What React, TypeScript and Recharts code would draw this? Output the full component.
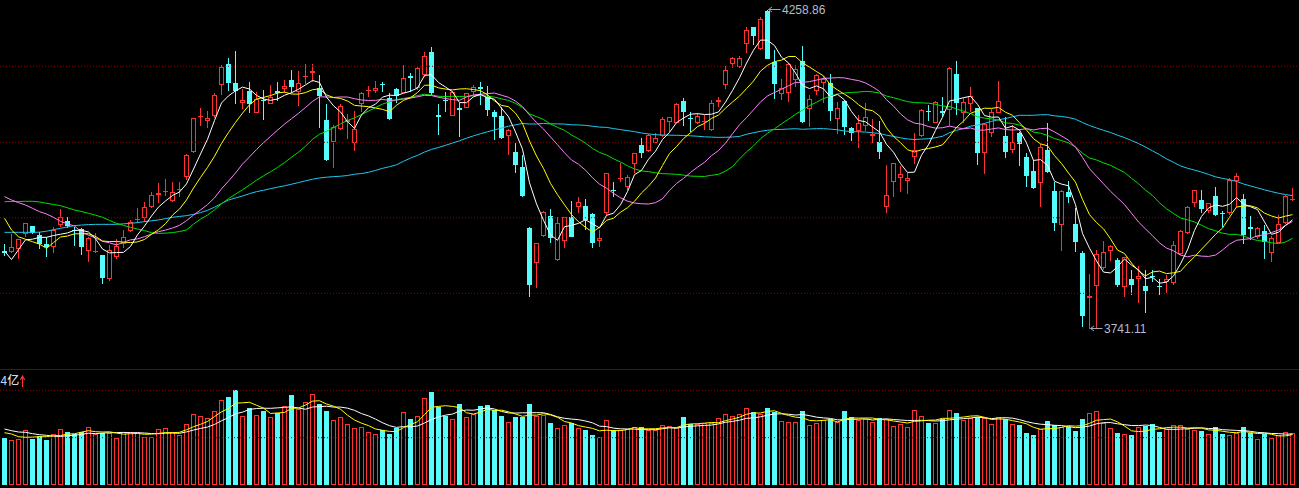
import React from 'react';
import { ComposedChart, Bar, Line, XAxis, YAxis, ReferenceLine, ReferenceDot } from 'recharts';

// ---------- price data (index points) ----------
const opens = [
3867.5,3865.3,3869.7,3894.0,3907.0,3892.9,3878.3,3872.9,3908.6,3915.6,
3901.6,3902.1,3867.5,3864.8,3860.5,3821.0,3856.7,3878.3,3899.9,3917.3,
3920.0,3937.8,3957.3,3962.7,3947.6,3966.0,3986.5,4027.1,4083.9,4078.5,
4086.1,4135.8,4170.4,4140.1,4106.6,4127.2,4091.5,4112.6,4105.0,4126.6,
4130.4,4144.5,4125.5,4150.4,4155.3,4131.0,4079.6,4044.4,4064.9,4076.9,
4041.7,4105.0,4126.6,4126.6,4138.0,4114.7,4129.3,4123.9,4151.0,4131.0,
4152.6,4190.4,4087.7,4112.5,4086.6,4099.6,4099.6,4125.0,4132.6,4117.4,
4093.1,4086.0,4054.1,4028.1,4003.8,3903.7,3848.0,3891.8,3923.7,3852.3,
3883.7,3921.6,3938.9,3940.0,3926.4,3883.7,3929.1,3965.9,3983.8,3971.3,
4007.6,4039.0,4029.8,4042.8,4054.1,4076.8,4075.2,4110.4,4082.2,4075.2,
4076.3,4063.3,4108.8,4136.3,4170.9,4165.0,4202.3,4229.9,4194.2,4256.4,
4174.2,4121.2,4123.9,4144.5,4175.3,4096.9,4127.1,4139.1,4140.1,4080.6,
4110.4,4066.0,4062.2,4069.8,4054.1,4043.3,3937.8,3978.4,3984.9,3980.0,
4019.0,4053.6,4094.7,4075.2,4094.7,4095.8,4154.2,4090.4,4105.0,4098.5,
4026.5,4059.0,4091.5,4053.6,4030.9,4057.9,4020.0,3996.8,3977.9,4030.9,
3964.3,3909.1,3962.2,3910.8,3863.2,3790.1,3810.7,3838.8,3867.5,3852.3,
3808.0,3821.5,3822.0,3810.1,3826.4,3810.7,3816.1,3814.5,3862.1,3895.6,
3944.3,3949.7,3932.4,3956.7,3929.2,3929.2,3981.1,3950.8,3905.4,3890.2,
3900.0,3863.2,3880.5,3911.8,3949.7];

const highs = [
3878.3,3894.5,3887.0,3912.9,3907.5,3898.3,3890.2,3905.4,3935.7,3922.7,
3905.4,3903.7,3890.2,3895.6,3861.0,3876.7,3885.9,3901.0,3917.3,3936.2,
3945.9,3962.2,3976.8,3983.3,3978.9,3978.9,4023.8,4083.3,4098.5,4094.2,
4122.8,4168.8,4179.6,4191.5,4129.3,4141.8,4125.5,4128.2,4136.4,4141.8,
4144.5,4160.7,4159.1,4170.4,4170.4,4152.6,4104.9,4071.4,4104.9,4089.3,
4094.2,4124.5,4135.3,4142.9,4141.8,4122.8,4131.0,4168.8,4155.3,4166.1,
4190.5,4198.6,4105.5,4125.5,4127.1,4106.6,4123.9,4136.4,4141.8,4134.7,
4095.8,4101.2,4064.4,4041.7,4022.7,3906.4,3879.4,3931.9,3935.1,3921.6,
3922.7,3948.1,3955.1,3951.3,3928.1,3901.0,3994.1,3979.4,4010.3,3990.3,
4026.5,4050.9,4056.8,4059.0,4083.9,4085.0,4106.6,4114.7,4092.0,4090.4,
4087.7,4112.0,4117.4,4167.2,4182.2,4183.4,4229.9,4231.0,4247.3,4258.86,
4193.1,4146.1,4171.5,4168.8,4199.6,4120.1,4154.2,4151.0,4154.2,4109.3,
4112.0,4068.7,4087.7,4107.7,4081.2,4077.9,4006.5,4010.3,4004.9,3994.1,
4059.0,4097.4,4103.9,4110.4,4116.3,4165.0,4175.3,4114.7,4133.7,4099.6,
4074.1,4096.9,4143.4,4085.0,4071.4,4060.6,4026.5,4014.6,4040.6,4075.2,
3979.5,3965.9,3980.6,3936.2,3867.5,3829.1,3868.6,3883.1,3876.7,3855.0,
3857.8,3836.1,3843.1,3836.1,3836.1,3821.0,3828.0,3883.1,3901.0,3940.5,
3965.9,3965.9,3945.4,3971.4,3931.9,3984.9,3994.1,3959.5,3923.8,3906.4,
3909.1,3891.3,3925.4,3957.8,3969.7];

const lows = [
3858.8,3863.2,3854.5,3890.2,3894.5,3869.7,3857.8,3863.2,3906.4,3903.7,
3875.6,3860.5,3849.6,3863.2,3813.4,3818.8,3854.5,3871.3,3898.3,3911.8,
3914.5,3936.2,3945.4,3956.2,3947.0,3955.1,3982.2,4025.5,4069.8,4067.1,
4083.3,4120.1,4127.2,4104.9,4096.9,4091.5,4090.4,4079.6,4104.9,4110.4,
4123.9,4123.9,4102.8,4138.0,4141.8,4066.0,4013.5,4002.2,4063.3,4048.2,
4029.8,4093.1,4117.4,4122.8,4125.5,4079.6,4106.6,4122.8,4125.5,4128.2,
4149.9,4120.1,4055.2,4092.0,4086.0,4052.5,4098.5,4120.1,4103.9,4086.0,
4047.1,4048.7,4022.7,3994.1,3955.1,3792.8,3806.3,3890.2,3879.4,3851.2,
3871.3,3889.1,3929.1,3901.0,3871.3,3874.0,3925.4,3955.1,3979.4,3965.9,
3993.0,4017.3,4028.1,4041.7,4052.5,4060.6,4074.1,4069.8,4060.6,4073.1,
4063.3,4062.2,4101.2,4129.3,4163.4,4163.4,4187.7,4201.3,4193.1,4178.0,
4113.6,4111.9,4109.3,4132.6,4075.2,4068.7,4120.1,4106.6,4078.5,4056.8,
4055.2,4046.0,4033.6,4062.2,4042.8,4015.7,3928.1,3955.1,3963.2,3958.9,
4008.1,4051.4,4078.5,4074.1,4083.9,4069.8,4087.7,4075.2,4093.1,4006.5,
3991.9,4052.5,4090.4,4017.3,4025.5,4004.9,3970.3,3967.0,3938.9,3994.1,
3899.9,3867.5,3944.3,3865.9,3743.0,3741.11,3742.5,3836.1,3851.3,3809.1,
3791.7,3795.5,3782.0,3765.8,3817.2,3795.5,3798.2,3811.8,3860.5,3894.5,
3937.8,3929.2,3928.1,3924.3,3905.4,3925.4,3938.9,3878.3,3884.8,3885.9,
3854.0,3849.6,3879.4,3910.8,3948.6];

const closes = [
3863.2,3872.9,3885.9,3911.8,3896.7,3878.3,3872.9,3901.0,3921.6,3907.5,
3899.4,3872.9,3887.5,3867.0,3823.7,3868.6,3875.1,3889.1,3914.5,3918.9,
3938.9,3957.3,3961.6,3963.8,3963.2,3967.6,4022.8,4082.3,4086.1,4082.3,
4120.1,4165.0,4140.1,4127.2,4112.0,4104.9,4113.1,4110.9,4116.3,4122.8,
4135.3,4133.7,4139.1,4151.5,4159.1,4119.0,4014.6,4068.7,4102.3,4079.6,
4065.0,4122.8,4127.7,4131.0,4136.9,4081.2,4118.5,4147.2,4147.2,4163.4,
4183.4,4123.9,4083.9,4110.9,4124.4,4095.8,4122.8,4132.6,4130.4,4095.8,
4085.0,4049.8,4063.3,4006.5,3956.2,3811.7,3879.4,3930.2,3888.6,3911.8,
3921.6,3890.2,3947.0,3917.2,3879.4,3887.5,3993.0,3964.3,3985.4,3986.5,
4025.4,4026.5,4055.2,4050.9,4081.2,4083.9,4105.0,4093.1,4081.2,4086.0,
4077.4,4106.6,4112.0,4160.7,4180.6,4180.6,4225.6,4216.4,4243.5,4179.1,
4137.4,4130.9,4169.9,4161.8,4076.8,4113.6,4152.6,4146.1,4094.7,4098.5,
4068.7,4057.9,4074.1,4083.9,4056.8,4028.1,3957.8,4009.2,3991.9,3984.9,
4030.9,4095.8,4093.6,4108.2,4091.5,4163.4,4106.6,4109.3,4119.1,4026.5,
4072.5,4093.1,4110.9,4028.1,4043.3,4040.6,3988.7,3968.6,4035.2,3995.7,
3912.9,3964.9,3955.1,3882.1,3761.4,3793.9,3861.5,3864.8,3875.1,3811.8,
3856.7,3811.8,3826.4,3802.6,3824.2,3808.0,3821.0,3876.7,3899.4,3938.9,
3965.9,3934.6,3944.3,3925.4,3927.0,3982.2,3988.7,3892.9,3903.2,3903.7,
3882.1,3887.5,3910.8,3956.7,3950.8];

// moving-average lines
const ma5 = [
3867,3853,3869,3885,3886.1,3889.1,3889.1,3892.1,3894.1,3896.3,
3900.5,3900.5,3897.8,3886.9,3870.1,3863.9,3864.4,3864.7,3874.2,3893.2,
3907.3,3923.7,3938.2,3948.1,3957.0,3962.7,3975.8,3999.9,4024.4,4048.2,
4078.7,4107.2,4118.7,4126.9,4132.9,4129.8,4119.5,4113.6,4111.4,4113.6,
4119.7,4123.8,4129.4,4136.5,4143.7,4140.5,4116.7,4102.6,4092.7,4076.8,
4066.0,4087.7,4099.5,4105.2,4116.7,4119.9,4119.1,4123.0,4126.2,4131.5,
4151.9,4153.0,4140.4,4133.1,4125.3,4107.8,4107.6,4117.3,4121.2,4115.5,
4113.3,4098.7,4084.9,4060.1,4032.2,3977.5,3943.4,3916.8,3893.2,3884.3,
3906.3,3908.5,3911.8,3917.6,3911.1,3904.3,3924.8,3928.3,3941.9,3963.3,
3990.9,3997.6,4015.8,4028.9,4047.8,4059.5,4075.2,4082.8,4088.9,4089.8,
4088.5,4088.9,4092.6,4108.5,4127.5,4148.1,4171.9,4192.8,4209.3,4209.0,
4200.4,4181.5,4172.2,4155.8,4135.4,4130.6,4134.9,4130.2,4116.8,4121.1,
4112.1,4093.2,4078.8,4076.6,4068.3,4060.2,4040.1,4027.2,4008.8,3994.4,
3994.9,4022.5,4039.4,4062.7,4084.0,4110.5,4112.7,4115.8,4118.0,4105.0,
4086.8,4084.1,4084.4,4066.2,4069.6,4063.2,4042.3,4013.9,4015.3,4005.8,
3980.2,3975.5,3972.8,3942.1,3895.3,3871.5,3850.8,3832.7,3831.3,3841.4,
3854.0,3844.0,3836.4,3821.9,3824.3,3814.6,3816.4,3826.5,3845.9,3868.8,
3900.4,3923.1,3936.6,3941.8,3939.4,3942.7,3953.5,3943.2,3938.8,3934.1,
3914.1,3893.9,3897.5,3908.2,3917.6];

const ma10 = [
3920,3901,3890,3886,3882,3878.1,3871.1,3880.6,3889.6,3891.2,
3894.8,3894.8,3895.0,3890.5,3883.2,3882.2,3882.5,3881.3,3880.6,3881.7,
3885.6,3894.1,3901.5,3911.2,3925.1,3935.0,3949.8,3969.1,3986.3,4002.6,
4020.7,4041.5,4059.3,4075.7,4090.6,4104.3,4113.4,4116.2,4119.2,4123.3,
4124.8,4121.7,4121.5,4124.0,4128.7,4130.1,4120.3,4116.0,4114.6,4110.3,
4103.3,4102.2,4101.1,4099.0,4096.8,4093.0,4103.4,4111.3,4115.7,4124.1,
4135.9,4136.1,4131.7,4129.7,4128.4,4129.9,4130.3,4128.9,4127.2,4120.4,
4110.6,4103.2,4101.1,4090.7,4073.9,4045.4,4021.1,4000.9,3976.7,3958.3,
3941.9,3926.0,3914.3,3905.4,3897.7,3905.3,3916.7,3920.1,3929.8,3937.2,
3947.6,3961.2,3972.1,3985.4,4005.6,4025.2,4036.4,4049.3,4058.9,4068.8,
4074.0,4082.1,4087.7,4098.7,4108.7,4118.3,4130.4,4142.7,4158.9,4168.3,
4174.3,4176.7,4182.5,4182.6,4172.2,4165.5,4158.2,4151.2,4136.3,4128.3,
4121.4,4114.1,4104.5,4096.7,4094.7,4086.2,4066.7,4053.0,4042.7,4031.4,
4027.6,4031.3,4033.3,4035.8,4039.2,4052.7,4067.6,4077.6,4090.4,4094.5,
4098.7,4098.4,4100.1,4092.1,4087.3,4075.0,4063.2,4049.2,4040.8,4037.7,
4021.7,4008.9,3993.4,3978.7,3950.6,3925.9,3913.2,3902.8,3886.7,3868.4,
3862.8,3847.4,3834.6,3826.6,3832.9,3834.3,3830.2,3831.5,3833.9,3846.6,
3857.5,3869.8,3881.6,3893.9,3904.1,3921.6,3938.3,3939.9,3940.3,3936.8,
3928.4,3923.7,3920.4,3923.5,3925.9];

const ma20 = [
3955.1,3949.7,3945.4,3941.6,3936.2,3930.8,3927.0,3921.6,3915.0,3911.0,
3907.4,3897.9,3892.5,3888.3,3882.6,3880.2,3876.8,3881.0,3885.1,3886.5,
3890.2,3894.5,3898.3,3900.9,3904.2,3908.6,3916.2,3925.2,3933.5,3942.2,
3953.2,3967.8,3980.4,3993.5,4007.9,4019.7,4031.6,4042.7,4052.8,4063.0,
4072.8,4081.6,4090.4,4099.9,4109.7,4117.2,4116.9,4116.1,4116.9,4116.8,
4114.1,4112.0,4111.3,4111.5,4112.8,4111.6,4111.9,4113.7,4115.2,4117.2,
4119.6,4119.2,4116.4,4114.4,4112.6,4111.5,4116.9,4120.1,4121.5,4122.3,
4123.3,4119.7,4116.4,4110.2,4101.2,4087.7,4075.7,4064.9,4052.0,4039.4,
4026.3,4014.6,4007.7,3998.1,3985.8,3975.4,3968.9,3960.5,3953.3,3947.8,
3944.8,3943.6,3943.2,3945.4,3951.7,3965.3,3976.6,3984.7,3994.4,4003.0,
4010.8,4021.7,4029.9,4042.1,4057.2,4071.8,4083.4,4096.0,4108.9,4118.6,
4124.2,4129.4,4135.1,4140.7,4140.5,4141.9,4144.3,4147.0,4147.6,4148.3,
4147.9,4145.4,4143.5,4139.7,4133.5,4125.9,4112.5,4102.1,4089.5,4079.9,
4074.5,4072.7,4068.9,4066.3,4067.0,4069.5,4067.2,4065.3,4066.6,4063.0,
4063.2,4064.9,4066.7,4064.0,4063.3,4063.9,4065.4,4063.4,4065.6,4066.1,
4060.2,4053.7,4046.8,4035.4,4019.0,4000.5,3988.2,3976.0,3963.8,3953.1,
3942.3,3928.2,3914.0,3902.7,3891.8,3880.1,3871.7,3867.2,3860.3,3857.5,
3860.2,3858.6,3858.1,3860.3,3868.5,3878.0,3884.3,3885.7,3887.1,3891.7,
3893.0,3896.8,3901.0,3908.7,3915.0];

const ma30 = [
3947.0,3947.3,3947.3,3947.6,3947.6,3946.5,3944.3,3942.5,3940.5,3937.0,
3933.5,3931.0,3928.1,3925.0,3921.6,3916.5,3911.8,3908.5,3905.4,3902.5,
3900.1,3896.6,3895.5,3895.9,3896.8,3898.5,3901.1,3910.4,3918.8,3925.2,
3933.7,3943.5,3952.0,3959.2,3966.3,3973.8,3981.9,3988.9,3995.4,4002.6,
4010.4,4019.1,4027.4,4037.0,4048.2,4056.5,4061.2,4067.1,4073.4,4078.8,
4083.0,4088.5,4094.0,4099.6,4105.4,4109.1,4112.4,4114.5,4116.5,4119.2,
4121.4,4120.0,4118.1,4117.6,4118.0,4117.7,4118.0,4118.8,4119.2,4118.3,
4116.6,4113.9,4111.3,4106.5,4099.7,4089.5,4085.0,4080.4,4073.2,4067.6,
4062.8,4055.1,4049.0,4041.9,4033.4,4026.9,4022.7,4016.6,4011.3,4005.3,
4000.1,3996.8,3995.8,3993.9,3992.4,3992.0,3991.4,3990.1,3988.5,3988.1,
3987.9,3989.8,3991.4,3996.5,4004.0,4016.3,4027.9,4037.4,4049.2,4058.1,
4065.3,4073.4,4080.8,4088.9,4095.5,4103.0,4108.3,4114.4,4118.0,4121.8,
4123.3,4124.3,4124.9,4126.0,4125.2,4123.3,4118.4,4115.7,4112.6,4109.3,
4107.8,4107.4,4106.8,4105.1,4102.1,4101.5,4097.5,4093.9,4089.8,4084.8,
4082.6,4081.3,4079.3,4074.9,4073.8,4071.3,4065.9,4059.9,4058.0,4054.6,
4049.4,4046.2,4042.3,4035.6,4025.7,4017.9,4014.7,4009.9,4006.0,4000.2,
3994.4,3984.9,3976.1,3965.8,3957.0,3945.1,3935.5,3927.8,3920.5,3917.6,
3914.0,3908.7,3903.2,3899.8,3895.9,3893.9,3893.9,3891.4,3887.0,3883.9,
3882.9,3880.3,3878.9,3881.4,3887.6];

const ma60 = [
3897.2,3897.2,3897.2,3897.2,3897.2,3897.5,3899.0,3901.5,3903.7,3906.0,
3908.1,3909.0,3909.8,3910.2,3910.2,3910.2,3910.2,3911.0,3911.8,3913.0,
3914.5,3916.0,3917.3,3919.5,3921.6,3923.0,3924.3,3926.5,3929.2,3933.0,
3938.0,3944.0,3949.7,3953.0,3956.2,3960.0,3963.2,3965.5,3968.1,3970.5,
3972.7,3975.3,3978.0,3980.8,3983.4,3985.5,3986.7,3987.6,3988.3,3989.4,
3991.6,3992.6,3994.7,3997.8,4001.1,4003.8,4006.8,4012.5,4017.7,4022.2,
4027.5,4031.8,4035.0,4038.4,4042.2,4045.8,4050.0,4053.8,4057.3,4060.4,
4063.5,4066.5,4069.4,4071.7,4074.0,4073.0,4073.1,4073.8,4073.3,4073.2,
4072.9,4071.8,4071.5,4070.8,4069.4,4068.0,4067.6,4065.6,4063.9,4062.3,
4060.7,4058.4,4057.0,4055.7,4055.2,4054.9,4054.7,4054.4,4053.9,4053.2,
4052.2,4051.8,4051.3,4051.5,4051.9,4052.9,4056.4,4058.9,4061.2,4062.9,
4064.1,4064.2,4064.9,4065.4,4064.5,4065.0,4065.5,4065.5,4064.7,4063.6,
4061.7,4060.6,4060.4,4060.0,4058.8,4057.7,4054.9,4052.9,4050.6,4048.8,
4047.8,4048.6,4049.1,4050.8,4053.1,4058.9,4062.7,4065.7,4069.5,4071.4,
4074.0,4077.3,4080.0,4081.9,4084.7,4087.2,4087.1,4087.2,4088.0,4088.2,
4086.3,4085.3,4083.6,4080.8,4075.5,4070.6,4066.6,4062.8,4059.3,4054.8,
4051.1,4046.2,4041.4,4035.5,4029.5,4023.3,4016.5,4010.9,4005.1,4001.2,
3998.3,3995.0,3991.3,3987.3,3984.8,3982.7,3979.9,3975.7,3972.5,3969.3,
3966.2,3963.3,3960.6,3958.5,3956.7];

// ---------- volume (亿) ----------
const volumes = [
1893,1800,1840,2200,1853,1960,1813,2027,2240,2133,
2040,2133,2320,2040,2067,2080,1880,2107,2120,2120,
1920,1920,2240,2280,2107,1987,2440,2840,2760,2680,
2960,3400,3520,3800,2760,3067,2800,2960,2720,2867,
3160,3613,3040,3320,3640,3240,2960,2600,2720,2440,
2280,2320,2120,2040,2187,2053,2280,2920,2640,2760,
3480,3733,3107,2773,2627,3240,2707,2840,3160,3200,
3000,2760,2520,2720,2733,3240,2760,2800,2480,2267,
2387,2467,2267,2200,2000,1907,2587,2187,2187,2227,
2307,2320,2200,2200,2387,2347,2333,2720,2427,2427,
2467,2467,2667,2840,2747,2827,3067,2920,2840,3080,
2933,2547,2507,2507,2960,2387,2467,2613,2627,2507,
2960,2707,2587,2640,2507,2667,2640,2347,2440,2307,
2987,2747,2480,2467,2653,2987,2880,2600,2667,2720,
2667,2440,2707,2627,2427,2400,2080,2000,2240,2560,
2387,2333,2333,2160,2640,2867,2947,2467,2267,2080,
2027,2000,2307,2373,2440,2120,2240,2387,2387,2253,
2187,2160,2040,2320,2040,1987,2067,2320,2093,1827,
2040,1867,1987,2107,2067];

const volMa5 = [
2093,2040,1933,1907,1917,1931,1933,1971,1979,2035,
2051,2115,2173,2133,2120,2128,2077,2035,2051,2061,
2029,2037,2064,2096,2093,2107,2211,2331,2427,2541,
2736,2928,3064,3272,3288,3309,3189,3077,2861,2883,
2901,3064,3080,3200,3355,3371,3240,3152,3032,2792,
2600,2472,2376,2240,2189,2144,2136,2296,2416,2531,
2816,3107,3144,3171,3144,3096,2891,2837,2915,3029,
2981,2992,2928,2840,2747,2795,2795,2851,2803,2709,
2539,2480,2374,2318,2264,2168,2192,2176,2174,2219,
2299,2246,2248,2251,2283,2291,2293,2397,2443,2451,
2475,2502,2491,2574,2638,2710,2830,2880,2880,2947,
2968,2864,2781,2715,2691,2582,2566,2587,2611,2520,
2635,2683,2678,2680,2680,2622,2608,2560,2520,2480,
2544,2566,2592,2598,2667,2667,2693,2717,2757,2771,
2707,2619,2640,2632,2574,2520,2448,2307,2229,2256,
2253,2304,2371,2355,2371,2467,2589,2616,2638,2526,
2358,2168,2136,2157,2229,2248,2296,2312,2315,2277,
2291,2275,2205,2192,2149,2109,2091,2147,2101,2059,
2069,2029,1963,1966,2014];

const volMa10 = [
2240,2173,2120,2107,2053,2012,1987,1952,1943,1976,
1991,2024,2072,2056,2078,2090,2096,2104,2092,2091,
2079,2057,2050,2074,2077,2068,2124,2198,2262,2317,
2422,2570,2698,2850,2915,3023,3059,3071,3067,3086,
3105,3127,3079,3031,3119,3136,3152,3116,3116,3074,
2986,2856,2764,2636,2491,2372,2304,2336,2328,2360,
2480,2622,2720,2794,2838,2956,2999,2991,3043,3087,
3039,2942,2883,2878,2888,2888,2894,2890,2822,2728,
2667,2638,2613,2561,2487,2354,2336,2275,2246,2242,
2234,2219,2212,2213,2251,2295,2270,2323,2347,2367,
2383,2398,2444,2509,2545,2593,2666,2686,2727,2793,
2839,2847,2831,2798,2819,2775,2715,2684,2663,2606,
2609,2625,2633,2646,2600,2629,2646,2619,2600,2580,
2583,2587,2576,2559,2574,2606,2630,2655,2678,2719,
2687,2656,2679,2695,2673,2614,2534,2474,2431,2415,
2387,2376,2339,2292,2314,2360,2447,2494,2497,2449,
2413,2379,2376,2398,2378,2303,2232,2224,2236,2253,
2270,2286,2259,2254,2213,2200,2183,2176,2147,2104,
2089,2060,2055,2034,2037];

// grid levels and annotations
const priceGrid = [4166.7, 4043.3, 3920.9, 3798.2];
const volGrid = [3787, 1893];
const maxMark = { index: 109, value: 4258.86, text: '4258.86' };
const minMark = { index: 155, value: 3741.11, text: '3741.11' };
const volUnitLabel = ['4', '亿'];

const RED = '#ff3232';
const CYAN = '#54fcfc';
const GRID = '#8c0000';
const FONT = '"Liberation Sans", Arial, sans-serif';

const candleData = closes.map((c, i) => ({
  i,
  open: opens[i],
  high: highs[i],
  low: lows[i],
  close: c,
  ma5: ma5[i],
  ma10: ma10[i],
  ma20: ma20[i],
  ma30: ma30[i],
  ma60: ma60[i],
}));

const volData = volumes.map((v, i) => ({
  i,
  vol: v,
  up: closes[i] >= opens[i],
  vma5: volMa5[i],
  vma10: volMa10[i],
}));

const Candle = (props: any) => {
  const { x, y, width, height, payload } = props;
  if (x == null || !payload) return null;
  const { open, close, high, low } = payload;
  const top = Math.min(y, y + height);
  const h = Math.abs(height);
  const k = h / (high - low || 1);
  const py = (v: number) => top + (high - v) * k;
  const up = close >= open;
  const color = up ? RED : CYAN;
  const wx = Math.floor(x + width / 2);
  const yH = Math.round(py(high));
  const yL = Math.round(py(low));
  const yT = Math.round(py(Math.max(open, close)));
  let yB = Math.round(py(Math.min(open, close)));
  if (yB - yT < 1) yB = yT + 1;
  const bx = Math.round(x);
  const bw = Math.round(width);
  if (up && yB - yT > 2) {
    return (
      <g shapeRendering="crispEdges">
        {yT > yH && <rect x={wx} y={yH} width={1} height={yT - yH} fill={color} />}
        {yL > yB && <rect x={wx} y={yB} width={1} height={yL - yB} fill={color} />}
        <rect x={bx + 0.5} y={yT + 0.5} width={bw - 1} height={yB - yT - 1} fill="#000" stroke={color} strokeWidth={1} />
      </g>
    );
  }
  return (
    <g shapeRendering="crispEdges">
      <rect x={wx} y={yH} width={1} height={Math.max(yL - yH, 1)} fill={color} />
      <rect x={bx} y={yT} width={bw} height={yB - yT} fill={color} />
    </g>
  );
};

const VolBar = (props: any) => {
  const { x, y, width, height, payload } = props;
  if (x == null || !payload) return null;
  const top = Math.round(Math.min(y, y + height));
  const bottom = Math.round(Math.max(y, y + height));
  const bx = Math.round(x);
  const bw = Math.round(width);
  if (payload.up) {
    return (
      <rect x={bx + 0.5} y={top + 0.5} width={bw - 1} height={Math.max(bottom - top - 1, 0)}
        fill="#000" stroke={RED} strokeWidth={1} shapeRendering="crispEdges" />
    );
  }
  return <rect x={bx} y={top} width={bw} height={bottom - top} fill={CYAN} shapeRendering="crispEdges" />;
};

const MarkLabel = ({ cx, cy, text }: any) => {
  if (cx == null || cy == null) return null;
  return (
    <g>
      <path d={`M${cx + 1},${cy} L${cx + 13},${cy}`} stroke="#a0a8b4" strokeWidth={1} />
      <path d={`M${cx + 4.5},${cy - 2.5} L${cx + 1},${cy} L${cx + 4.5},${cy + 2.5}`} stroke="#a0a8b4" strokeWidth={1} fill="none" />
      <text x={cx + 14.5} y={cy + 4.5} fill="#b4bccb" fontSize={12} fontFamily={FONT}>{text}</text>
    </g>
  );
};

const lineProps = { type: 'linear' as const, strokeWidth: 1, dot: false, activeDot: false, isAnimationActive: false };

export default function App() {
  return (
    <div style={{ position: 'absolute', left: 0, top: 0, width: 1299, height: 488, background: '#000', overflow: 'hidden' }}>
      <style>{'body{margin:0;background:#000;}'}</style>
      <div style={{ position: 'absolute', left: 0, top: 0 }}>
        <ComposedChart width={1299} height={369} data={candleData} margin={{ top: 0, right: 0, bottom: 0, left: 0 }}>
          <XAxis dataKey="i" hide padding={{ left: 1, right: 3 }} />
          <YAxis hide domain={[3675.4, 4274.3]} allowDataOverflow />
          {priceGrid.map((p) => (
            <ReferenceLine key={p} y={p} stroke={GRID} strokeDasharray="1 2" />
          ))}
          <Bar dataKey={(d: any) => [d.low, d.high]} barSize={5} shape={<Candle />} activeBar={false} isAnimationActive={false} />
          <Line {...lineProps} dataKey="ma60" stroke="#20c8f0" />
          <Line {...lineProps} dataKey="ma30" stroke="#00e000" />
          <Line {...lineProps} dataKey="ma20" stroke="#ff80ff" />
          <Line {...lineProps} dataKey="ma10" stroke="#ffff00" />
          <Line {...lineProps} dataKey="ma5" stroke="#ffffff" />
          <ReferenceDot x={maxMark.index} y={maxMark.value} r={0} ifOverflow="visible"
            shape={(p: any) => <MarkLabel cx={p.cx} cy={p.cy} text={maxMark.text} />} />
          <ReferenceDot x={minMark.index} y={minMark.value} r={0} ifOverflow="visible"
            shape={(p: any) => <MarkLabel cx={p.cx} cy={p.cy} text={minMark.text} />} />
        </ComposedChart>
      </div>
      <div style={{ position: 'absolute', left: 0, top: 369, width: 1299, height: 1, background: '#800000' }} />
      <div style={{ position: 'absolute', left: 0, top: 370 }}>
        <ComposedChart width={1299} height={118} data={volData} margin={{ top: 0, right: 0, bottom: 3, left: 0 }}>
          <XAxis dataKey="i" hide padding={{ left: 1, right: 3 }} />
          <YAxis hide domain={[0, 4600]} allowDataOverflow />
          {volGrid.map((v) => (
            <ReferenceLine key={v} y={v} stroke={GRID} strokeDasharray="1 2" />
          ))}
          <Bar dataKey="vol" barSize={5} shape={<VolBar />} activeBar={false} isAnimationActive={false} />
          <Line {...lineProps} dataKey="vma10" stroke="#ffffff" />
          <Line {...lineProps} dataKey="vma5" stroke="#ffff00" />
        </ComposedChart>
      </div>
      <svg style={{ position: 'absolute', left: 0, top: 369 }} width={40} height={24}>
        <text x={0.5} y={16} fontSize={12} fontFamily={'"Noto Sans CJK SC", ' + FONT}>
          <tspan fill="#b8d4f4">{volUnitLabel[0]}</tspan>
          <tspan fill="#ffffff">{volUnitLabel[1]}</tspan>
        </text>
        <path d="M22.5,8 L22.5,18" stroke={RED} strokeWidth={1.2} />
        <path d="M20.3,11 L22.5,7 L24.7,11" stroke={RED} strokeWidth={1.2} fill="none" />
      </svg>
    </div>
  );
}
